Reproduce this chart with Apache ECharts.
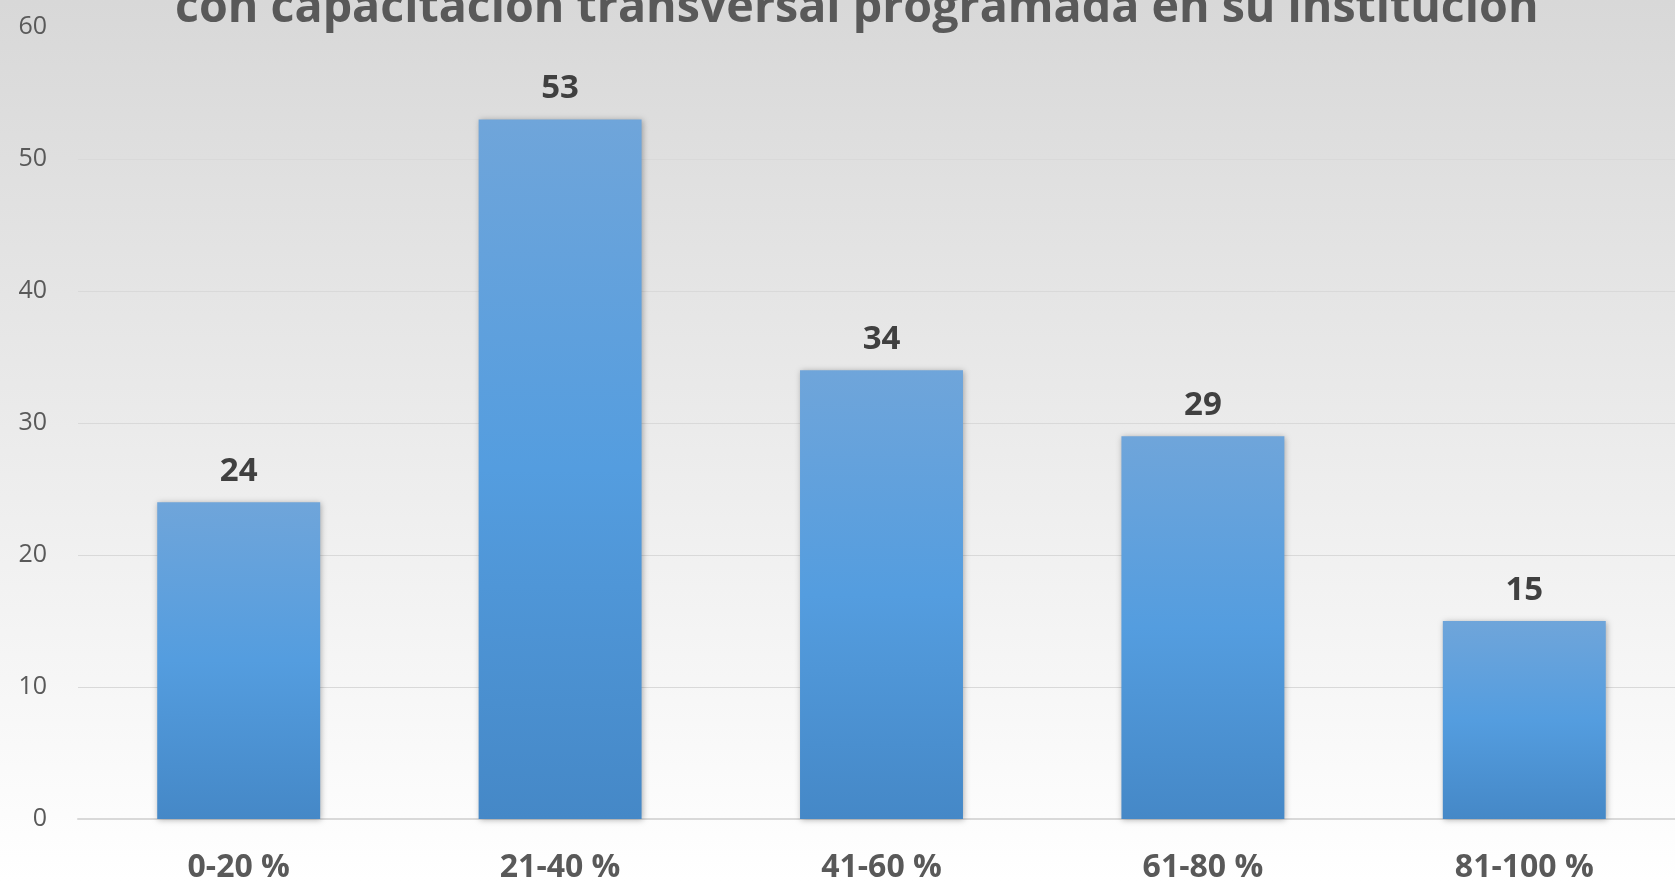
<!DOCTYPE html>
<html>
<head>
<meta charset="utf-8">
<script src="https://cdn.jsdelivr.net/npm/echarts@6/dist/echarts.min.js"></script>
<style>
  html, body { margin: 0; padding: 0; }
  #main { width: 1675px; height: 881px; }
</style>
</head>
<body>
<div id="main"></div>
<script>
// datos del grafico
const titulo = 'con capacitación transversal programada en su institución'
const categorias = ['0-20 %', '21-40 %', '41-60 %', '61-80 %', '81-100 %']
const valores = [24, 53, 34, 29, 15]
const ejeY = { min: 0, max: 60, interval: 10 }

const chart = echarts.init(document.getElementById('main'))
const option = {
  backgroundColor: new echarts.graphic.LinearGradient(0, 0, 0, 1, [
    { offset: 0, color: '#d8d8d8' },
    { offset: 1, color: '#ffffff' }
  ]),
  title: {
    text: titulo,
    left: 170,
    top: -20,
    textStyle: {
      color: '#595959',
      fontFamily: 'Open Sans',
      fontWeight: 'bold',
      fontSize: 46.6
    }
  },
  grid: {
    left: 78,
    right: -10,
    top: 27,
    bottom: 62,
    outerBoundsMode: 'none'
  },
  xAxis: {
    type: 'category',
    data: categorias,
    axisTick: { show: false },
    axisLine: { lineStyle: { color: '#d9d9d9', width: 2 } },
    axisLabel: {
      color: '#595959',
      fontFamily: 'Open Sans',
      fontWeight: 'bold',
      fontSize: 32,
      margin: 33
    }
  },
  yAxis: {
    type: 'value',
    min: ejeY.min,
    max: ejeY.max,
    interval: ejeY.interval,
    axisLine: { show: false },
    axisTick: { show: false },
    splitLine: { lineStyle: { color: '#d9d9d9', width: 1 } },
    axisLabel: {
      color: '#595959',
      fontFamily: 'Open Sans',
      fontSize: 25,
      margin: 31,
      padding: [4, 0, 0, 0]
    }
  },
  series: [
    {
      type: 'bar',
      data: valores,
      barWidth: '50.7%',
      itemStyle: {
        color: new echarts.graphic.LinearGradient(0, 0, 0, 1, [
          { offset: 0, color: '#6fa5da' },
          { offset: 0.5, color: '#549ddf' },
          { offset: 1, color: '#4588c7' }
        ]),
        shadowColor: 'rgba(0,0,0,0.3)',
        shadowBlur: 6,
        shadowOffsetX: 1,
        shadowOffsetY: 1
      },
      label: {
        show: true,
        position: 'top',
        distance: 14,
        color: '#404040',
        fontFamily: 'Open Sans',
        fontWeight: 'bold',
        fontSize: 33
      }
    }
  ]
}
chart.setOption(option)
window.addEventListener('resize', () => {
  chart.resize()
})
</script>
</body>
</html>
